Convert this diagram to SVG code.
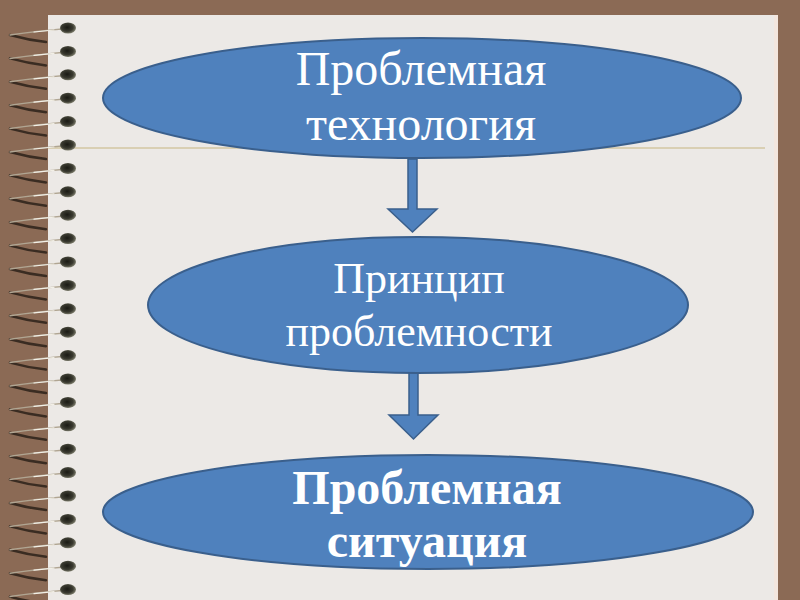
<svg xmlns="http://www.w3.org/2000/svg" xmlns:xlink="http://www.w3.org/1999/xlink" width="800" height="600" viewBox="0 0 800 600">
<style>
.node{fill:#4F81BD;stroke:#3A5F8C;stroke-width:2}
.lbl{font-family:"Liberation Serif","Times New Roman",serif;font-size:48px;fill:#FFFFFF;text-anchor:middle}
.small{font-size:44px}
.bold{font-weight:bold}
.arrow{fill:#4F81BD;stroke:#3A5F8C;stroke-width:1.5;stroke-linejoin:miter}
</style>
<defs>
<radialGradient id="hole" cx="0.45" cy="0.45" r="0.6">
<stop offset="0" stop-color="#1a1a14"/>
<stop offset="0.6" stop-color="#3a3a30"/>
<stop offset="1" stop-color="#8a8a78"/>
</radialGradient>
<g id="ring">
<path d="M-58 7 Q-40 12 -22 14" fill="none" stroke="#3a2c22" stroke-width="2.5" stroke-linecap="round"/>
<path d="M-6 1 Q-30 3 -58 7" fill="none" stroke="#b0a592" stroke-width="1.5" stroke-linecap="round"/>
<path d="M-14 2 Q-24 3 -34 4" fill="none" stroke="#f2efe6" stroke-width="1.2" stroke-linecap="round"/>
<ellipse cx="0" cy="0" rx="8" ry="5.5" fill="url(#hole)"/>
</g>
</defs>
<rect x="0" y="0" width="800" height="600" fill="#8B6A55"/>
<rect x="48" y="15" width="730" height="585" fill="#ECE9E6"/>
<rect x="774" y="15" width="4" height="585" fill="#F3E6DE"/>
<line x1="48" y1="148" x2="765" y2="148" stroke="#D9CFB3" stroke-width="2"/>
<g id="binding">
<use xlink:href="#ring" x="68" y="28"/>
<use xlink:href="#ring" x="68" y="51.4"/>
<use xlink:href="#ring" x="68" y="74.8"/>
<use xlink:href="#ring" x="68" y="98.2"/>
<use xlink:href="#ring" x="68" y="121.6"/>
<use xlink:href="#ring" x="68" y="145"/>
<use xlink:href="#ring" x="68" y="168.4"/>
<use xlink:href="#ring" x="68" y="191.8"/>
<use xlink:href="#ring" x="68" y="215.2"/>
<use xlink:href="#ring" x="68" y="238.6"/>
<use xlink:href="#ring" x="68" y="262"/>
<use xlink:href="#ring" x="68" y="285.4"/>
<use xlink:href="#ring" x="68" y="308.8"/>
<use xlink:href="#ring" x="68" y="332.2"/>
<use xlink:href="#ring" x="68" y="355.6"/>
<use xlink:href="#ring" x="68" y="379"/>
<use xlink:href="#ring" x="68" y="402.4"/>
<use xlink:href="#ring" x="68" y="425.8"/>
<use xlink:href="#ring" x="68" y="449.2"/>
<use xlink:href="#ring" x="68" y="472.6"/>
<use xlink:href="#ring" x="68" y="496"/>
<use xlink:href="#ring" x="68" y="519.4"/>
<use xlink:href="#ring" x="68" y="542.8"/>
<use xlink:href="#ring" x="68" y="566.2"/>
<use xlink:href="#ring" x="68" y="589.6"/>
</g>
<g id="connectors">
<path class="arrow" d="M408 159 L417 159 L417 209 L437 209 L412.5 232 L388 209 L408 209 Z"/>
<path class="arrow" d="M409 372 L418 372 L418 415 L438 415 L413.5 439 L389 415 L409 415 Z"/>
</g>
<g id="node1">
<ellipse class="node" cx="422" cy="98" rx="319" ry="60"/>
<text class="lbl" x="421" y="85">Проблемная</text>
<text class="lbl" x="421" y="140">технология</text>
</g>
<g id="node2">
<ellipse class="node" cx="418" cy="305" rx="270" ry="68"/>
<text class="lbl small" x="419" y="293">Принцип</text>
<text class="lbl small" x="419" y="346">проблемности</text>
</g>
<g id="node3">
<ellipse class="node" cx="428" cy="512" rx="325" ry="57"/>
<text class="lbl bold" x="427" y="504">Проблемная</text>
<text class="lbl bold" x="427" y="557">ситуация</text>
</g>
</svg>
